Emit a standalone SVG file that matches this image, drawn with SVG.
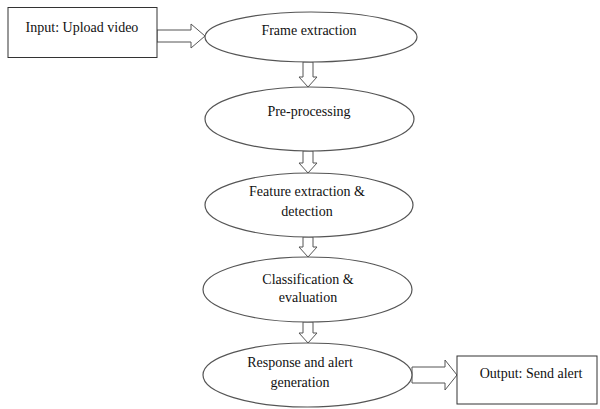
<svg xmlns="http://www.w3.org/2000/svg" width="600" height="409" viewBox="0 0 600 409">
  <style>
    .box { fill: #ffffff; stroke: #333333; stroke-width: 1; }
    .oval { fill: #ffffff; stroke: #555555; stroke-width: 1.2; }
    .arrow { fill: #ffffff; stroke: #555555; stroke-width: 1; stroke-linejoin: miter; }
    text { font-family: "Liberation Serif", "Times New Roman", serif; font-size: 14px; fill: #111111; text-anchor: middle; }
  </style>
  <rect width="600" height="409" fill="#ffffff"/>

  <!-- block arrows between the steps -->
  <g id="connectors">
    <polygon class="arrow" points="157,30 191,30 191,24 205,36 191,48 191,42 157,42"/>
    <polygon class="arrow" points="303,62 313,62 313,77 317,77 308,87 299,77 303,77"/>
    <polygon class="arrow" points="303,151 313,151 313,163 317,163 308,173 299,163 303,163"/>
    <polygon class="arrow" points="303,237 313,237 313,247 317,247 308,257 299,247 303,247"/>
    <polygon class="arrow" points="303,322 313,322 313,333 317,333 308,343 299,333 303,333"/>
    <polygon class="arrow" points="412,367 445,367 445,360 457,375 445,390 445,383 412,383"/>
  </g>

  <g id="input">
    <rect class="box" x="8" y="7.5" width="149" height="50"/>
    <text x="82" y="32">Input: Upload video</text>
  </g>

  <g id="frame-extraction">
    <ellipse class="oval" cx="311" cy="37" rx="106" ry="25"/>
    <text x="309" y="35">Frame extraction</text>
  </g>

  <g id="pre-processing">
    <ellipse class="oval" cx="309.5" cy="119" rx="104.5" ry="32"/>
    <text x="309" y="116">Pre-processing</text>
  </g>

  <g id="feature-extraction">
    <ellipse class="oval" cx="309" cy="205" rx="104" ry="32"/>
    <text x="307" y="196">Feature extraction &amp;</text>
    <text x="307" y="216">detection</text>
  </g>

  <g id="classification">
    <ellipse class="oval" cx="307.5" cy="289.5" rx="104.5" ry="32.5"/>
    <text x="308" y="284">Classification &amp;</text>
    <text x="308" y="302">evaluation</text>
  </g>

  <g id="response">
    <ellipse class="oval" cx="307.5" cy="375" rx="104.5" ry="32"/>
    <text x="300" y="367">Response and alert</text>
    <text x="300" y="387">generation</text>
  </g>

  <g id="output">
    <rect class="box" x="457" y="356" width="140" height="48"/>
    <text x="531" y="378">Output: Send alert</text>
  </g>
</svg>
